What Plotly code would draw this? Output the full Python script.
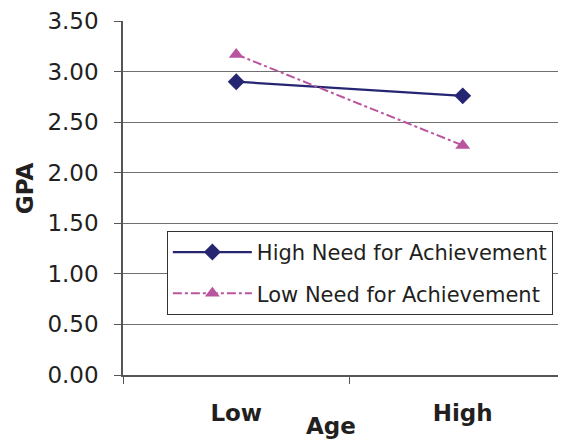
import plotly.graph_objects as go

categories = ["Low", "High"]
high_need = [2.90, 2.76]
low_need = [3.17, 2.27]
series_names = ["High Need for Achievement", "Low Need for Achievement"]
y_ticks = [0.0, 0.5, 1.0, 1.5, 2.0, 2.5, 3.0, 3.5]

FONT = "DejaVu Sans"
TXT = "#231f20"

fig = go.Figure()
fig.add_trace(go.Scatter(
    x=categories, y=high_need, name=series_names[0], mode="lines+markers",
    legendgroup="a",
    line=dict(color="#252572", width=2.2),
    marker=dict(symbol="diamond", size=13, color="#252572"),
))
fig.add_trace(go.Scatter(
    x=categories, y=low_need, name=series_names[1], mode="lines+markers",
    legendgroup="b",
    line=dict(color="#b9559f", width=2, dash="dashdot"),
    marker=dict(symbol="triangle-up", size=13, color="#b9559f"),
))

fig.update_layout(
    width=558, height=436,
    margin=dict(l=115, r=0, t=13, b=69),
    paper_bgcolor="white", plot_bgcolor="white",
    font=dict(family=FONT, color=TXT),
    showlegend=True,
    legend=dict(
        x=0.099, y=0.407, xanchor="left", yanchor="top",
        bgcolor="white", bordercolor="#333333", borderwidth=1,
        font=dict(family=FONT, size=21, color=TXT),
        traceorder="grouped", tracegroupgap=11, itemwidth=79,
    ),
    xaxis=dict(
        type="category", range=[-0.5, 1.456],
        tickson="boundaries", ticks="outside", ticklen=7, tickcolor="#555555",
        showline=True, linecolor="#555555", linewidth=1.5,
        showgrid=False, zeroline=False,
        tickfont=dict(family=FONT, size=23, color=TXT, weight="bold"),
        ticklabelstandoff=17,
    ),
    yaxis=dict(
        range=[0, 3.5], tickvals=y_ticks, tickformat=".2f",
        ticks="outside", ticklen=7, tickcolor="#555555",
        showline=True, linecolor="#555555", linewidth=1.5,
        showgrid=True, gridcolor="#6f6f6f", gridwidth=1,
        zeroline=False,
        tickfont=dict(family=FONT, size=23, color=TXT),
        ticklabelstandoff=11,
    ),
    annotations=[
        dict(text="<b>Age</b>", xref="paper", yref="paper", x=0.47, y=-0.143,
             xanchor="center", yanchor="middle", showarrow=False,
             font=dict(family=FONT, size=23, color=TXT)),
        dict(text="<b>GPA</b>", xref="paper", yref="paper", x=-0.221, y=0.528,
             xanchor="center", yanchor="middle", textangle=-90, showarrow=False,
             font=dict(family=FONT, size=23, color=TXT)),
    ],
)

fig.write_html("out.html")
